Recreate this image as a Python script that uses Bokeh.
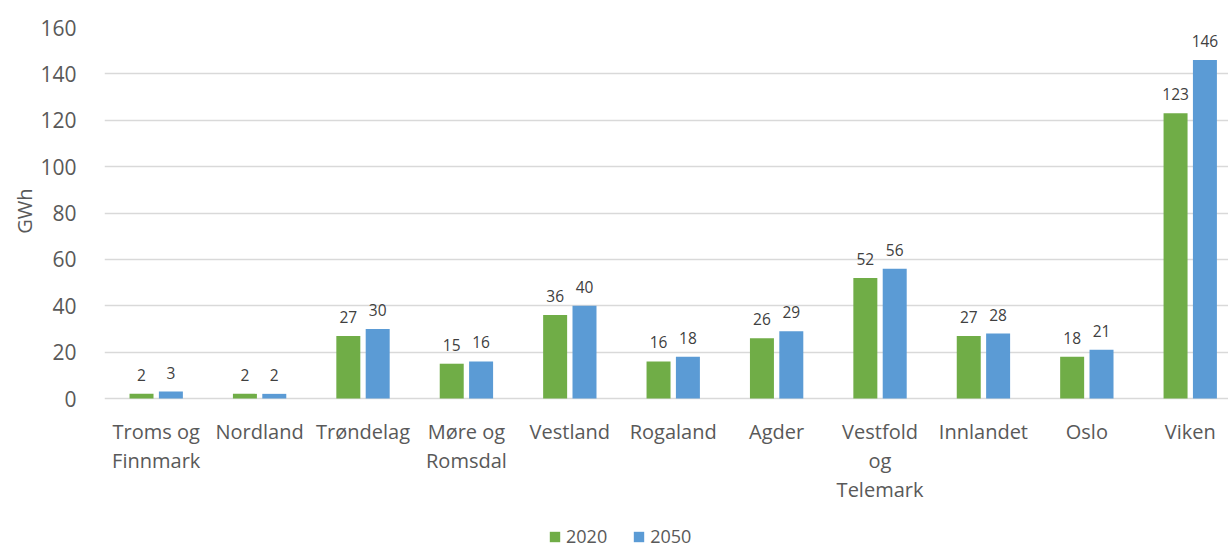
from bokeh.plotting import figure
from bokeh.models import (ColumnDataSource, Range1d, FixedTicker, Legend, LegendItem, Title)
from bokeh.core.properties import value
from bokeh.embed import file_html
from bokeh.resources import INLINE

categories = ["Troms og\nFinnmark", "Nordland", "Trøndelag", "Møre og\nRomsdal", "Vestland",
              "Rogaland", "Agder", "Vestfold\nog\nTelemark", "Innlandet", "Oslo", "Viken"]
series_names = ["2020", "2050"]
values_2020 = [2, 2, 27, 15, 36, 16, 26, 52, 27, 18, 123]
values_2050 = [3, 2, 30, 16, 40, 18, 29, 56, 28, 21, 146]
y_ticks = [0, 20, 40, 60, 80, 100, 120, 140, 160]
y_title = "GWh"

colors = ["#70AD47", "#5B9BD5"]
FONT = "Open Sans"
TXT = "#595959"

centers = [i + 0.5 for i in range(len(categories))]
offset = 0.142
bar_w = 0.232

p = figure(width=1228, height=548, output_backend="svg", toolbar_location=None,
           x_range=Range1d(0, 10.87), y_range=Range1d(-64.69, 160),
           x_axis_location=None,
           min_border_left=104, min_border_right=0, min_border_top=27, min_border_bottom=0)
p.outline_line_color = None
p.background_fill_color = "white"
p.border_fill_color = "white"

renderers = []
for k, (vals, col) in enumerate(zip([values_2020, values_2050], colors)):
    xs = [c + (offset if k else -offset) for c in centers]
    src = ColumnDataSource(dict(x=xs, top=vals, lab=[str(v) for v in vals]))
    r = p.vbar(x="x", top="top", bottom=0, width=bar_w, source=src,
               fill_color=col, line_color=None)
    renderers.append(r)
    p.text(x="x", y="top", text="lab", source=src, text_align="center",
           text_baseline="alphabetic", y_offset=-19, text_font=value(FONT),
           text_font_size="15.5px", text_color="#404040")

# category labels under the baseline
cat_src = ColumnDataSource(dict(x=centers, y=[0] * len(centers), lab=categories))
p.text(x="x", y="y", text="lab", source=cat_src, text_align="center", text_baseline="top",
       y_offset=19, text_font=value(FONT), text_font_size="20px", text_color=TXT,
       text_line_height=1.08)

p.yaxis.ticker = FixedTicker(ticks=y_ticks)
p.yaxis.axis_line_color = None
p.yaxis.major_tick_line_color = None
p.yaxis.minor_tick_line_color = None
p.yaxis.major_label_standoff = 22
p.yaxis.major_label_text_font = FONT
p.yaxis.major_label_text_font_size = "21px"
p.yaxis.major_label_text_color = TXT

p.add_layout(Title(text=y_title, align="right", offset=161, text_font=FONT,
                   text_font_size="20px", text_font_style="normal", text_color=TXT,
                   standoff=0), "left")

p.xgrid.grid_line_color = None
p.ygrid.grid_line_color = "#D9D9D9"
p.ygrid.grid_line_width = 1.3
p.ygrid.ticker = FixedTicker(ticks=y_ticks)

legend = Legend(items=[LegendItem(label=series_names[i], renderers=[renderers[i]]) for i in range(2)],
                orientation="horizontal", location=(444, 0),
                glyph_width=13, glyph_height=13, label_standoff=5, spacing=25,
                padding=0, margin=0, border_line_color=None, background_fill_alpha=0,
                label_text_font=FONT, label_text_font_size="18px", label_text_color=TXT)
p.add_layout(legend, "center")

open("out.html", "w").write(file_html(p, INLINE))
